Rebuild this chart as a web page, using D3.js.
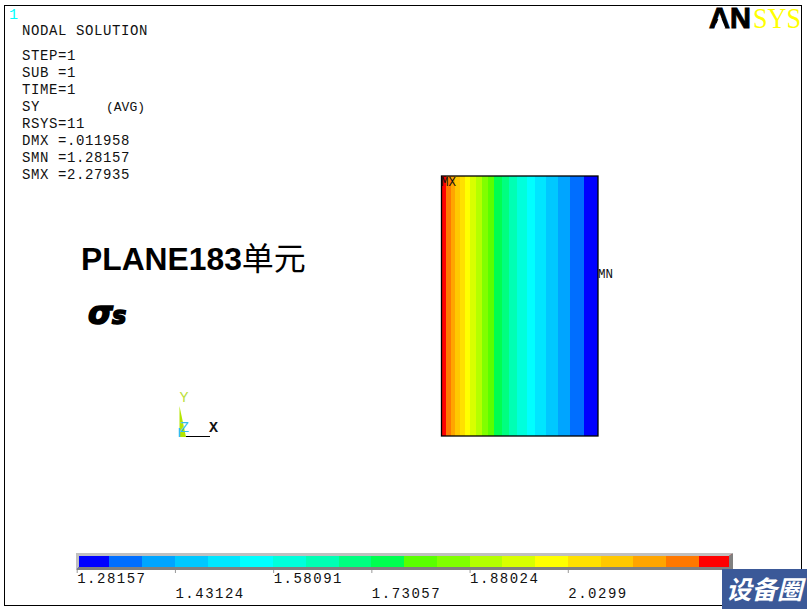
<!DOCTYPE html>
<meta charset="utf-8">
<script src="https://cdn.jsdelivr.net/npm/d3@7"></script>
<style>
	body{margin:0;background:#fff;}
	text{font-family:"Liberation Mono",monospace;}
</style>
<div id="chart"></div>

<script>
// text block top left
var infoLines = ["NODAL SOLUTION","STEP=1","SUB =1","TIME=1","SY","RSYS=11","DMX =.011958","SMN =1.28157","SMX =2.27935"]
var infoBaselines = [35,60,77,94,111,128,145,162,179]

// contour colours, low to high
var bandColors = ["#0000ff","#006eff","#00a5ff","#00c8ff","#00e6ff","#00ffff","#00ffdc","#00ffb4","#00ff80","#00ff50",
	"#5aff00","#80ff00","#b4ff00","#d8ff00","#ffff00","#ffe000","#ffc800","#ffa500","#ff7800","#ff0000"]

// band boundaries across the section, % of width from the left (MX) side
var bandEdges = [0,2.9,5.9,8.6,11.8,15.0,18.2,22.0,25.7,29.5,33.5,38.5,43.1,48.4,54.4,59.9,66.8,74.4,82.1,91.1,100]

// legend
var smn = 1.28157
var smx = 2.27935
var legendTicks = [1.28157,1.43124,1.58091,1.73057,1.88024,2.0299]
var legendLabels = ["1.28157","1.43124","1.58091","1.73057","1.88024","2.0299"]

var width = 807
var height = 609

var svg = d3.select("#chart").append("svg")
	.attr("width",width)
	.attr("height",height)
	.style("display","block")

// window frame
svg.append("rect")
	.attr("x",4.5).attr("y",5.5)
	.attr("width",797).attr("height",600)
	.attr("fill","#fff").attr("stroke","#000")

svg.append("text").attr("x",9).attr("y",19)
	.attr("fill","#00ffff").style("font-size","15px").text("1")

svg.append("g").selectAll("text")
	.data(infoLines)
	.enter()
	.append("text")
	.attr("x",22)
	.attr("y",function(d,i){return infoBaselines[i]})
	.style("font-size","14px")
	.style("letter-spacing","0.6px")
	.attr("fill","#111")
	.text(function(d){return d})

svg.append("text").attr("x",106).attr("y",111)
	.style("font-size","13px")
	.attr("fill","#111").text("(AVG)")

// ANSYS logo
var logo = svg.append("g")
logo.append("text").attr("x",709).attr("y",28)
	.style("font-family","Liberation Sans").style("font-weight","bold").style("font-size","29px")
	.attr("stroke","#000").attr("stroke-width",1).attr("fill","#000").text("AN")
logo.append("path").attr("d","M720 15L714.5 28.6L725.5 28.6Z").attr("fill","#fff")
logo.append("text").attr("x",753).attr("y",28)
	.style("font-family","Liberation Serif").style("font-size","29px")
	.attr("textLength",48).attr("lengthAdjust","spacingAndGlyphs")
	.attr("fill","#ffff00").text("SYS")

// annotation typed on the plot
var title = svg.append("text").attr("x",81).attr("y",270)
title.append("tspan").style("font-family","Liberation Sans").style("font-weight","bold").style("font-size","31.8px").text("PLANE183")
title.append("tspan").style("font-family","Noto Sans CJK SC").style("font-size","32px").text("单元")

var sigma = svg.append("text").attr("x",88).attr("y",324)
	.style("font-family","DejaVu Sans").style("font-weight","bold").style("font-style","italic")
	.attr("stroke","#000").attr("stroke-width",1.6)
sigma.append("tspan").style("font-size","32px").text("σ")
sigma.append("tspan").attr("dx",-1).style("font-size","24px").text("s")

// triad
var triad = svg.append("g")
triad.append("path").attr("d","M179.5 406L186 437L179.5 437Z").attr("fill","#b4e600")
triad.append("line").attr("x1",179.5).attr("x2",179.5).attr("y1",428).attr("y2",437).attr("stroke","#33bbee").attr("stroke-width",1.5)
triad.append("line").attr("x1",186).attr("x2",210).attr("y1",436.5).attr("y2",436.5).attr("stroke","#000")
triad.append("text").attr("x",179.5).attr("y",402).attr("fill","#bce040").style("font-size","15px").text("Y")
triad.append("text").attr("x",180).attr("y",432).attr("fill","#33bbee").style("font-size","15px").text("Z")
triad.append("text").attr("x",209).attr("y",432).attr("fill","#111").style("font-size","15px").style("font-weight","bold").text("X")

// contour plot
var sectionX = d3.scaleLinear().domain([0,100]).range([441.5,598])
var plotTop = 176
var plotBottom = 436

svg.append("g").selectAll("rect")
	.data(bandColors.slice().reverse())
	.enter()
	.append("rect")
	.attr("x",function(d,i){return sectionX(bandEdges[i])})
	.attr("y",plotTop)
	.attr("width",function(d,i){return sectionX(bandEdges[i+1])-sectionX(bandEdges[i])})
	.attr("height",plotBottom-plotTop)
	.attr("shape-rendering","crispEdges")
	.attr("fill",function(d){return d})

svg.append("rect")
	.attr("x",sectionX(0)).attr("y",plotTop)
	.attr("width",sectionX(100)-sectionX(0)).attr("height",plotBottom-plotTop)
	.attr("fill","none").attr("stroke","#000").attr("stroke-width",1.3)

svg.append("text").attr("x",441).attr("y",186).attr("fill","#111").style("font-size","12.5px").text("MX")
svg.append("text").attr("x",598).attr("y",278).attr("fill","#111").style("font-size","12.5px").text("MN")

// legend bar
var legendX = d3.scaleLinear().domain([smn,smx]).range([76.7,731.5])
var legendBand = d3.scaleBand().domain(d3.range(bandColors.length)).range([76.7,731.5])
var barTop = 553
var barBottom = 570

svg.append("g").selectAll("rect")
	.data(bandColors)
	.enter()
	.append("rect")
	.attr("x",function(d,i){return legendBand(i)})
	.attr("y",barTop)
	.attr("width",legendBand.bandwidth())
	.attr("height",barBottom-barTop)
	.attr("shape-rendering","crispEdges")
	.attr("fill",function(d){return d})

// bevel round the bar
var bevel = svg.append("g")
bevel.append("path").attr("d","M76 553H733L729 556H79V567L76 570Z").attr("fill","#c0c0c0")
bevel.append("path").attr("d","M733 553V570H76L79 567H729V556Z").attr("fill","#808080")

var legendAxis = d3.axisBottom(legendX)
	.tickValues(legendTicks)
	.tickSize(3)
	.tickFormat(function(d,i){return legendLabels[i]})

var axisG = svg.append("g").attr("transform","translate(0,570)").call(legendAxis)
axisG.select(".domain").remove()
axisG.selectAll(".tick line").attr("stroke","#999")
axisG.selectAll(".tick text")
	.attr("text-anchor","start")
	.attr("x",0)
	.attr("dy",null)
	.attr("y",function(d,i){return i%2==0 ? 13 : 28})
	.attr("fill","#111")
	.style("font-family","Liberation Mono")
	.style("font-size","14px")
	.style("letter-spacing","1.5px")

// site stamp bottom right
svg.append("rect").attr("x",722).attr("y",569).attr("width",85).attr("height",40).attr("fill","#3b5998")
svg.append("text").attr("x",726).attr("y",599)
	.style("font-family","Noto Sans CJK SC").style("font-weight","bold").style("font-style","italic")
	.style("font-size","25.5px").attr("fill","#fff").text("设备圈")
</script>
